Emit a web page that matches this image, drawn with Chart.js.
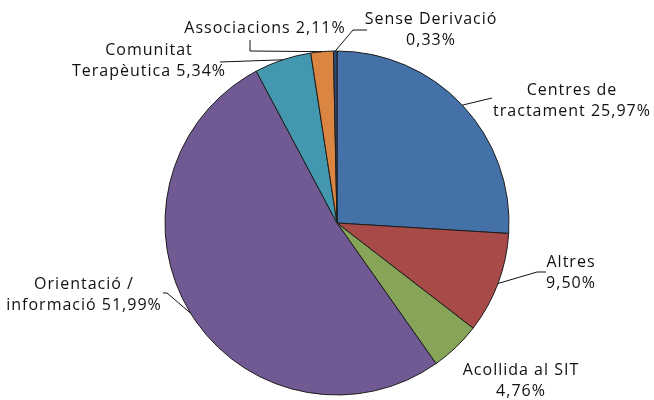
<!DOCTYPE html>
<html>
<head>
<meta charset="utf-8">
<script src="https://cdn.jsdelivr.net/npm/chart.js@4"></script>
<style>
  html, body { margin: 0; padding: 0; background: #fff; }
  #wrap { width: 654px; height: 400px; }
</style>
</head>
<body>
<div id="wrap"><canvas id="derivChart" width="654" height="400"></canvas></div>
<script>
// Chart data (clockwise from 12 o'clock)
const categories = ['Centres de tractament', 'Altres', 'Acollida al SIT', 'Orientació / informació',
    'Comunitat Terapèutica', 'Associacions', 'Sense Derivació'];
const percentages = [25.97, 9.50, 4.76, 51.99, 5.34, 2.11, 0.33];
// Label text, split into lines as in the original
const labelLines = [
    ['Centres de', 'tractament 25,97%'],
    ['Altres', '9,50%'],
    ['Acollida al SIT', '4,76%'],
    ['Orientació /', 'informació 51,99%'],
    ['Comunitat', 'Terapèutica 5,34%'],
    ['Associacions 2,11%'],
    ['Sense Derivació', '0,33%']
];
const sliceColors = ['#4571a9', '#a84a48', '#87a558', '#715a93', '#4398af', '#da8541', '#2f4a70'];

// Where each label sits and how its leader line bends (null = no leader)
const labelLayout = [
    { x: 572, y: 90, leader: [[492, 98]] },
    { x: 571, y: 262, leader: [[537, 272], [546, 272]] },
    { x: 521, y: 370, leader: null },
    { x: 84, y: 284, leader: [[167, 293], [163, 293]] },
    { x: 149, y: 50, leader: [[220, 62]] },
    { x: 265, y: 28, leader: [[250, 51], [250, 40]] },
    { x: 431, y: 19, leader: [[353, 30], [367, 30]] }
];

const FONT = '16px "Open Sans", "Liberation Sans", sans-serif';
const LINE_H = 21;

// Draws the data labels and their leader lines
const pieLabels = {
    id: 'pieLabels',
    afterDraw(chart) {
        const ctx = chart.ctx;
        const arcs = chart.getDatasetMeta(0).data;
        ctx.save();
        ctx.strokeStyle = '#111';
        ctx.lineWidth = 1;
        arcs.forEach((arc, i) => {
            const lay = labelLayout[i];
            if (lay.leader) {
                const p = arc.getProps(['x', 'y', 'startAngle', 'endAngle', 'outerRadius'], true);
                const mid = (p.startAngle + p.endAngle) / 2;
                ctx.beginPath();
                ctx.moveTo(p.x + Math.cos(mid) * p.outerRadius, p.y + Math.sin(mid) * p.outerRadius);
                lay.leader.forEach(pt => ctx.lineTo(pt[0], pt[1]));
                ctx.stroke();
            }
            ctx.fillStyle = '#111';
            ctx.font = FONT;
            ctx.letterSpacing = '1px';
            ctx.textAlign = 'center';
            ctx.textBaseline = 'middle';
            labelLines[i].forEach((line, k) => {
                ctx.fillText(line, lay.x, lay.y + k * LINE_H);
            });
        });
        ctx.restore();
    }
};

const ctx = document.getElementById('derivChart').getContext('2d');
const derivChart = new Chart(ctx, {
    type: 'pie',
    data: {
        labels: categories,
        datasets: [{
            data: percentages,
            backgroundColor: sliceColors,
            borderColor: '#1c1c1c',
            borderWidth: 1
        }]
    },
    options: {
        responsive: false,
        animation: false,
        radius: 172,
        layout: { padding: { left: 20, right: 0, top: 46, bottom: 0 } },
        plugins: {
            legend: { display: false },
            tooltip: { enabled: false }
        }
    },
    plugins: [pieLabels]
});
</script>
</body>
</html>
